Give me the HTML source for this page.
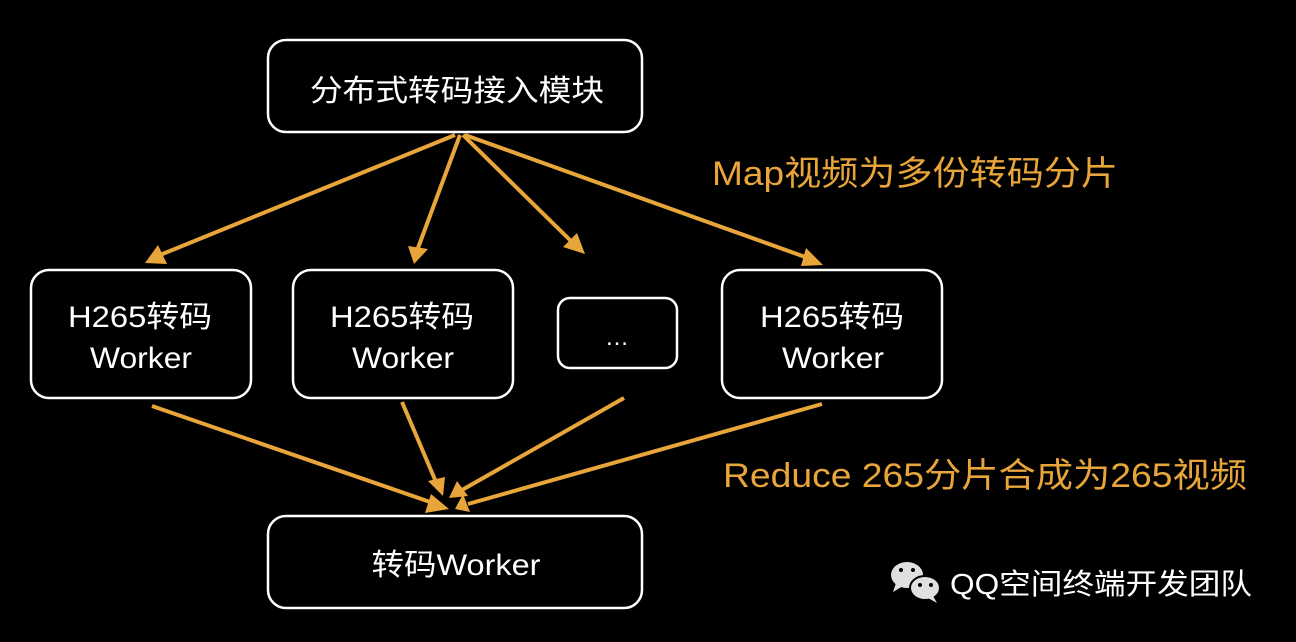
<!DOCTYPE html>
<html><head><meta charset="utf-8"><style>
html,body{margin:0;padding:0;background:#000;}
svg{display:block;}
text{font-family:"Liberation Sans","Noto Sans CJK SC",sans-serif;}
</style></head><body>
<svg width="1296" height="642" viewBox="0 0 1296 642" xmlns="http://www.w3.org/2000/svg">
<rect width="1296" height="642" fill="#000"/>
<g fill="none" stroke="#fff" stroke-width="2.5">
<rect x="268" y="40" width="374" height="92" rx="18"/>
<rect x="31" y="270" width="220" height="128" rx="18"/>
<rect x="293" y="270" width="220" height="128" rx="18"/>
<rect x="558" y="298" width="119" height="70" rx="12"/>
<rect x="722" y="270" width="220" height="128" rx="18"/>
<rect x="268" y="516" width="374" height="92" rx="18"/>
</g>
<g stroke="#e8a53a" stroke-width="4" fill="none">
<line x1="455" y1="135" x2="160" y2="255"/>
<line x1="460" y1="135" x2="418" y2="248"/>
<line x1="463" y1="135" x2="572" y2="242"/>
<line x1="465" y1="135" x2="808" y2="258"/>
<line x1="152" y1="406" x2="433" y2="503"/>
<line x1="402" y1="402" x2="436" y2="482"/>
<line x1="624" y1="398" x2="462" y2="490"/>
<line x1="822" y1="404" x2="468" y2="504"/>
</g>
<g fill="#e8a53a">
<polygon points="145,263 158,245 167,264"/>
<polygon points="414,264 408,246 428,249"/>
<polygon points="585,254 563,247 577,233"/>
<polygon points="823,265 806,248 801,266"/>
<polygon points="449,509 431,494 425,513"/>
<polygon points="443,496 428,481 445,477"/>
<polygon points="449,498 457,481 468,496"/>
<polygon points="455,509 463,494 470,512"/>
</g>
<g fill="#fff" font-size="30" text-anchor="middle" lengthAdjust="spacingAndGlyphs">
<text x="457" y="101" textLength="294" lengthAdjust="spacingAndGlyphs">分布式转码接入模块</text>
<text x="140" y="327" textLength="144" lengthAdjust="spacingAndGlyphs">H265转码</text>
<text x="141" y="368" textLength="102" lengthAdjust="spacingAndGlyphs">Worker</text>
<text x="402" y="327" textLength="144" lengthAdjust="spacingAndGlyphs">H265转码</text>
<text x="403" y="368" textLength="102" lengthAdjust="spacingAndGlyphs">Worker</text>
<text x="832" y="327" textLength="144" lengthAdjust="spacingAndGlyphs">H265转码</text>
<text x="833" y="368" textLength="102" lengthAdjust="spacingAndGlyphs">Worker</text>
<text x="617" y="345" font-size="24">…</text>
<text x="456" y="575" textLength="169" lengthAdjust="spacingAndGlyphs">转码Worker</text>
</g>
<g fill="#e8a53a" font-size="34">
<text x="712" y="185" textLength="406" lengthAdjust="spacingAndGlyphs">Map视频为多份转码分片</text>
<text x="723" y="487" textLength="524" lengthAdjust="spacingAndGlyphs">Reduce 265分片合成为265视频</text>
</g>
<g fill="#e0e0e0">
<ellipse cx="907" cy="575" rx="16" ry="13"/>
<polygon points="896,583 893,592 903,586"/>
<ellipse cx="925" cy="588" rx="15" ry="12" stroke="#000" stroke-width="2"/>
<polygon points="933,596 937,603 928,598"/>
</g>
<g fill="#000"><circle cx="901" cy="570" r="2"/><circle cx="913" cy="570" r="2"/><circle cx="920" cy="585" r="2"/><circle cx="931" cy="585" r="2"/></g>
<text x="950" y="594" fill="#fff" font-size="29" textLength="302" lengthAdjust="spacingAndGlyphs">QQ空间终端开发团队</text>
</svg>
</body></html>
